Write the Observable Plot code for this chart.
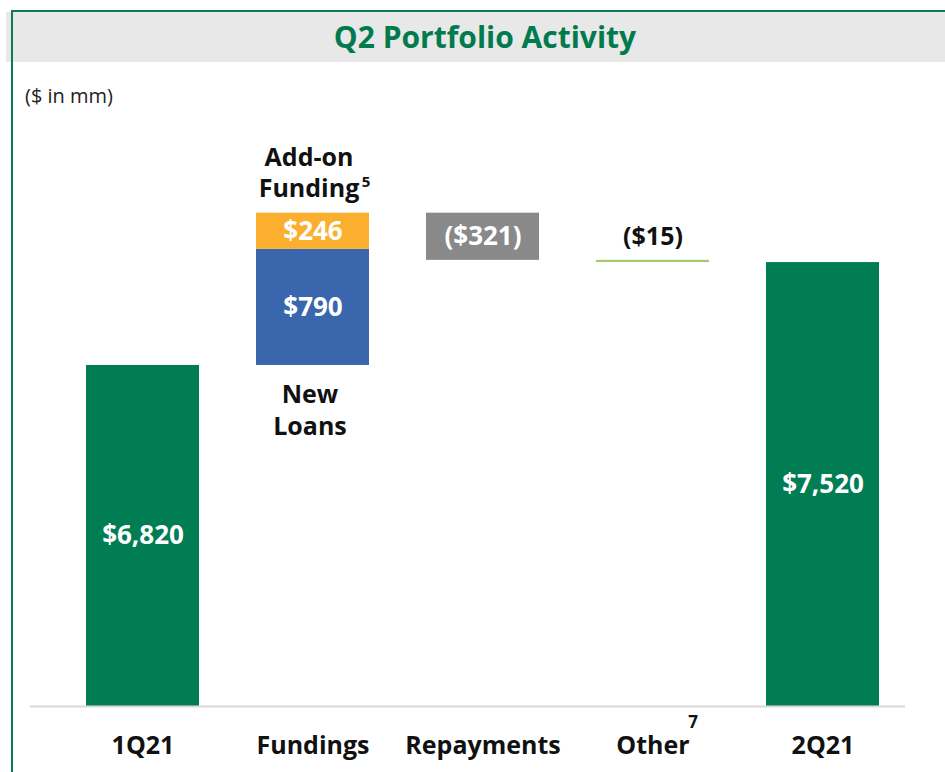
<!DOCTYPE html>
<html>
<head>
<meta charset="utf-8">
<script src="https://cdn.jsdelivr.net/npm/d3@7"></script>
<script src="https://cdn.jsdelivr.net/npm/@observablehq/plot@0.6"></script>
<style>
  html, body { margin: 0; padding: 0; background: #fff; }
  #page { position: relative; width: 945px; height: 772px; overflow: hidden; font-family: "Open Sans", "Noto Sans", sans-serif; }
  #band { position: absolute; left: 6px; top: 12px; width: 939px; height: 50px; background: #e8e8e8; }
  #topline { position: absolute; left: 12px; top: 10px; width: 933px; height: 2px; background: #0a7d52; }
  #leftline { position: absolute; left: 11px; top: 10px; width: 2px; height: 762px; background: #0a7d52; }
  #title { position: absolute; left: 0; top: 12px; width: 970px; height: 50px; line-height: 50px; text-align: center; font-size: 30px; font-weight: 700; color: #017a4e; }
  #sub { position: absolute; left: 25px; top: 82px; font-size: 20px; color: #222; }
  #chart { position: absolute; left: 0; top: 62px; }
</style>
</head>
<body>
<div id="page">
  <div id="band"></div>
  <div id="topline"></div>
  <div id="leftline"></div>
  <div id="title">Q2 Portfolio Activity</div>
  <div id="sub">($ in mm)</div>
  <div id="chart"></div>
</div>
<script>
// ---- data ----
const categories = ["1Q21", "Fundings", "Repayments", "Other", "2Q21"];
const startValue = 6820;     // 1Q21
const newLoans = 790;        // Fundings - New Loans
const addOnFunding = 246;    // Fundings - Add-on Funding
const repayments = -321;
const other = -15;
const endValue = 7520;       // 2Q21
const axisMin = 4500;
const axisMax = 8500;

// ---- build waterfall segments ----
const c1 = startValue + newLoans;
const c2 = c1 + addOnFunding;
const c3 = c2 + repayments;
const c4 = c3 + other;
const fmt = v => (v < 0 ? "($" + d3.format(",")(-v) + ")" : "$" + d3.format(",")(v));
const segs = [
  {cat: "1Q21", y1: axisMin, y2: startValue, fill: "#017d53", label: fmt(startValue)},
  {cat: "Fundings", y1: startValue, y2: c1, fill: "#3a66ae", label: fmt(newLoans)},
  {cat: "Fundings", y1: c1, y2: c2, fill: "#fbaf2e", label: fmt(addOnFunding)},
  {cat: "Repayments", y1: c3, y2: c2, fill: "#898989", label: fmt(repayments)},
  {cat: "Other", y1: c4, y2: c3, fill: "#a6c86e", label: null},
  {cat: "2Q21", y1: axisMin, y2: endValue, fill: "#017d53", label: fmt(endValue)}
];
const inLabels = segs.filter(d => d.label).map(d => ({cat: d.cat, y: (d.y1 + d.y2) / 2, label: d.label}));

const font = "Open Sans, Noto Sans, sans-serif";
const chart = Plot.plot({
  width: 945,
  height: 710,
  marginLeft: 56,
  marginRight: 36,
  marginTop: 56,
  marginBottom: 66,
  style: {fontFamily: font, background: "transparent"},
  x: {domain: categories, paddingInner: 0.337, paddingOuter: 0.168, label: null},
  y: {domain: [axisMin, axisMax], axis: null},
  marks: [
    Plot.rectY(segs, {x: "cat", y1: "y1", y2: "y2", fill: "fill"}),
    Plot.ruleY([axisMin], {stroke: "#d9d9d9", strokeWidth: 2, insetLeft: -26, insetRight: 4}),
    Plot.text(inLabels, {x: "cat", y: "y", text: "label", fill: "#fff", fontSize: 26, fontWeight: 700}),
    Plot.text([{cat: "Other", y: c3}], {x: "cat", y: "y", text: () => fmt(other), fill: "#111", fontSize: 25, fontWeight: 700, dy: -23}),
    Plot.text([{cat: "Fundings", y: c2}], {x: "cat", y: "y", text: () => "Add-on\nFunding", fill: "#111", fontSize: 25, fontWeight: 700, lineHeight: 1.24, dy: -42, dx: -4}),
    Plot.text([{cat: "Fundings", y: c2}], {x: "cat", y: "y", text: () => "5", fill: "#111", fontSize: 15, fontWeight: 700, dx: 53, dy: -31}),
    Plot.text([{cat: "Fundings", y: startValue}], {x: "cat", y: "y", text: () => "New\nLoans", fill: "#111", fontSize: 25, fontWeight: 700, lineHeight: 1.28, dy: 43, dx: -3}),
    Plot.axisX({tickSize: 0, tickPadding: 30, fontSize: 25, fontWeight: 700, fill: "#111", label: null}),
    Plot.text([{cat: "Other", y: axisMin}], {x: "cat", y: "y", text: () => "7", fill: "#111", fontSize: 17, fontWeight: 700, dx: 40, dy: 16})
  ]
});
document.getElementById("chart").appendChild(chart);
</script>
</body>
</html>
